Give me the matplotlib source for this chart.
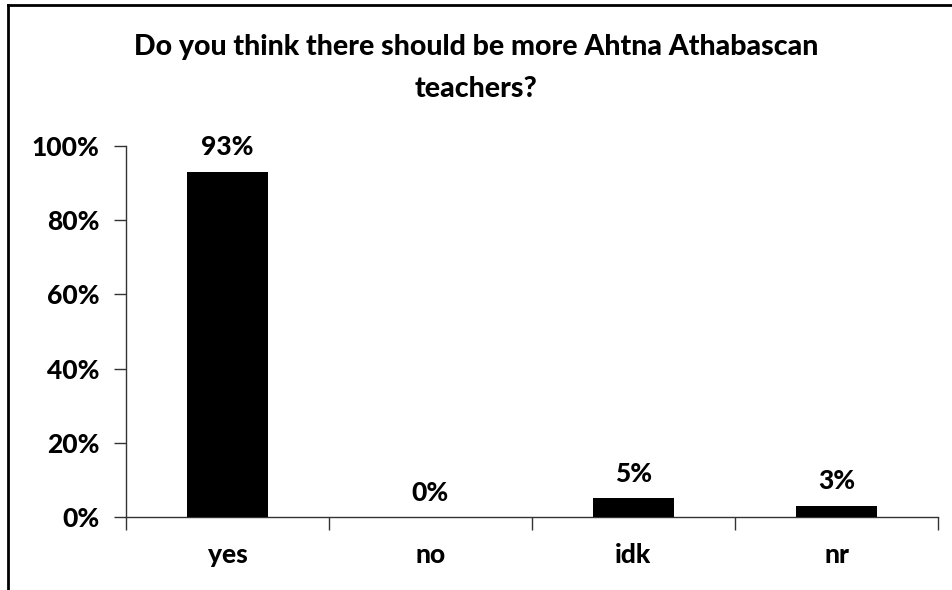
import matplotlib
matplotlib.use("Agg")
import matplotlib.pyplot as plt
from matplotlib.lines import Line2D
from matplotlib.ticker import FixedLocator, PercentFormatter

categories = ["yes", "no", "idk", "nr"]
values = [93, 0, 5, 3]
y_ticks = [0, 20, 40, 60, 80, 100]
title = "Do you think there should be more Ahtna Athabascan\nteachers?"

plt.rcParams["font.family"] = ["Lato", "DejaVu Sans"]
plt.rcParams["font.weight"] = 900

fig = plt.figure(figsize=(9.53, 5.9), dpi=100)
ax = fig.add_axes([0.1322, 0.1237, 0.852, 0.6288])

x = list(range(len(categories)))
bars = ax.bar(x, values, width=0.4, color="black", zorder=3)

ax.set_xlim(-0.5, len(categories) - 0.5)
ax.set_ylim(0, 100)
ax.set_yticks(y_ticks)
ax.yaxis.set_major_formatter(PercentFormatter(decimals=0))

# category labels centred, tick marks on the category boundaries
ax.set_xticks(x)
ax.set_xticklabels(categories)
ax.xaxis.set_minor_locator(FixedLocator([i - 0.5 for i in range(len(categories) + 1)]))
ax.tick_params(axis="x", which="major", length=0, pad=19, labelsize=19)
ax.tick_params(axis="x", which="minor", length=9, width=1, direction="out", color="#333333")
ax.tick_params(axis="y", length=9, width=1, direction="out", color="#333333", labelsize=19, pad=10)

for side in ("top", "right"):
    ax.spines[side].set_visible(False)
for side in ("left", "bottom"):
    ax.spines[side].set_color("#333333")
    ax.spines[side].set_linewidth(1)

for rect, v in zip(bars, values):
    ax.annotate(f"{v}%", (rect.get_x() + rect.get_width() / 2, v),
                xytext=(0, 9), textcoords="offset points",
                ha="center", va="bottom", fontsize=19, fontweight=900)

fig.text(0.5, 0.885, title, ha="center", va="center", fontsize=20.5,
         fontweight=900, linespacing=1.75)

# outer frame (top and left edges)
fig.add_artist(Line2D([8 / 953, 1.0], [1 - 5 / 590, 1 - 5 / 590],
                      transform=fig.transFigure, color="black", lw=2))
fig.add_artist(Line2D([8 / 953, 8 / 953], [0.0, 1 - 5 / 590],
                      transform=fig.transFigure, color="black", lw=2))

fig.savefig("out.png", dpi=100, facecolor="white")
